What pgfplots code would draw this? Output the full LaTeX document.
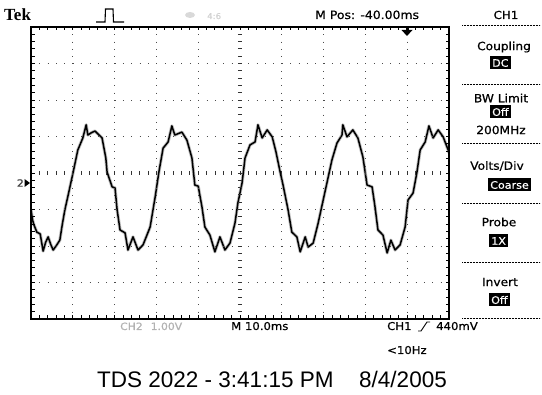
\documentclass[border=0pt]{standalone}
\usepackage{pgfplots}
\usepackage{pgfplotstable}
\pgfplotsset{compat=1.18}
\usepackage{fontspec}
\setmainfont[FakeStretch=1.08, FakeBold=0.7]{DejaVu Sans}
\newfontfamily\arialfont{Liberation Sans}
\newfontfamily\tekfont{Liberation Serif}

% CH1 trace, time in divisions (0..10), voltage in divisions (-4..4)
\pgfplotstableread{
t v
0.00 -1.01
0.04 -1.30
0.07 -1.42
0.14 -1.62
0.22 -1.67
0.29 -2.14
0.35 -1.90
0.41 -1.75
0.47 -1.95
0.53 -2.11
0.60 -2.00
0.69 -1.84
0.75 -1.40
0.81 -1.01
0.89 -0.60
1.01 0.03
1.12 0.63
1.24 0.96
1.32 1.32
1.36 1.04
1.44 1.10
1.53 1.15
1.62 1.05
1.70 0.96
1.79 0.41
1.82 0.03
1.94 -0.38
2.01 -0.41
2.06 -1.01
2.13 -1.56
2.25 -1.64
2.32 -2.11
2.44 -1.75
2.56 -2.11
2.68 -1.97
2.85 -1.48
2.97 -0.66
3.06 0.03
3.16 0.68
3.28 0.85
3.37 1.29
3.44 1.04
3.61 1.12
3.73 0.90
3.85 0.41
3.92 -0.33
4.00 -0.36
4.09 -0.93
4.16 -1.48
4.28 -1.70
4.40 -2.16
4.52 -1.75
4.64 -2.11
4.76 -1.92
4.88 -1.37
4.95 -0.82
5.05 -0.27
5.12 0.41
5.24 0.77
5.36 0.85
5.43 1.32
5.53 0.96
5.65 1.18
5.77 0.99
5.86 0.58
5.96 0.03
6.03 -0.33
6.15 -1.01
6.24 -1.62
6.36 -1.75
6.44 -2.16
6.56 -1.75
6.63 -2.03
6.75 -1.92
6.87 -1.37
6.99 -0.74
7.08 -0.27
7.20 0.36
7.32 0.82
7.44 1.04
7.46 1.32
7.56 0.99
7.70 1.18
7.82 0.96
7.94 0.44
8.04 -0.33
8.16 -0.38
8.23 -0.93
8.30 -1.56
8.42 -1.70
8.52 -2.19
8.61 -1.84
8.71 -2.11
8.83 -1.97
8.95 -1.48
9.02 -0.74
9.14 -0.55
9.23 0.00
9.31 0.63
9.43 0.85
9.52 1.29
9.62 0.96
9.74 1.18
9.86 0.99
9.98 0.63
10.00 0.55
}\chonetrace

\begin{document}
\begin{tikzpicture}[x=1pt,y=1pt]
\useasboundingbox (0,0) rectangle (542,395);

% waveform area: 10 x 8 divisions
\begin{axis}[at={(31pt,76pt)}, anchor=south west, scale only axis,
  width=418pt, height=292pt, xmin=0, xmax=10, ymin=-4, ymax=4,
  hide axis, clip=true]
\addplot[gray!50, line width=3.2pt, line join=round, no marks] table[x=t,y=v] {\chonetrace};
\addplot[black, line width=1.5pt, line join=round, no marks] table[x=t,y=v] {\chonetrace};
\end{axis}

% screen furniture, drawn in screen pixels measured from the top left
\begin{scope}[yshift=395pt, yscale=-1]
  % dotted graticule
  \foreach \k in {1,2,3,4,6,7,8,9}
    \draw[black!70, line width=0.9pt, dash pattern=on 1pt off 6.3pt]
      (31+41.8*\k, 27) -- (31+41.8*\k, 319);
  \foreach \k in {1,2,3,5,6,7}
    \draw[black!70, line width=0.9pt, dash pattern=on 1pt off 7.36pt]
      (31, 27+36.5*\k) -- (449, 27+36.5*\k);
  % centre cross with minor ticks
  \foreach \i in {0,...,40}
    \draw[black!80, line width=0.8pt] (237.8, 27+7.3*\i) -- (242.2, 27+7.3*\i);
  \foreach \i in {0,...,50}
    \draw[black!80, line width=0.8pt] (31+8.36*\i, 171) -- (31+8.36*\i, 175);
  % frame with inward ticks
  \draw[black, line width=1.3pt] (31,27) rectangle (449,319);
  \foreach \i in {0,...,50} {
    \draw[black, line width=0.9pt] (31+8.36*\i, 27) -- ++(0,3.5);
    \draw[black, line width=0.9pt] (31+8.36*\i, 319) -- ++(0,-3.5);
  }
  \foreach \i in {0,...,40} {
    \draw[black, line width=0.9pt] (31, 27+7.3*\i) -- ++(3.5,0);
    \draw[black, line width=0.9pt] (449, 27+7.3*\i) -- ++(-3.5,0);
  }

  % header
  \node[anchor=base west, inner sep=0, font=\tekfont\bfseries\fontsize{17}{17}\selectfont] at (4,21) {Tek};
  \draw[black, line width=1.1pt] (96,22) -- (105,22) -- (105.5,9) -- (113,9) -- (113.5,22) -- (124,22);
  \fill[gray!30] (190,15) ellipse (5 and 3);
  \node[anchor=base west, inner sep=0, text=gray!35, font=\fontsize{8}{8}\selectfont] at (207,19) {4:6};
  \node[anchor=base west, inner sep=0, font=\fontsize{11.5}{12}\selectfont] at (315,19) {M Pos: -40.00ms};
  \node[anchor=base, inner sep=0, font=\fontsize{11}{12}\selectfont] at (506,19) {CH1};
  % trigger position marker
  \fill[black] (405.5,27) rectangle (408.5,30);
  \fill[black] (401.5,30) -- (412.5,30) -- (407,36) -- cycle;
  % channel 2 ground marker
  \node[anchor=east, inner sep=0, text=black!75, font=\fontsize{10}{10}\selectfont] at (24,183) {2};
  \fill[black] (24.5,179) -- (30,183) -- (24.5,187) -- cycle;

  % side menu
  \foreach \y in {25,84,143,203,262,318}
    \draw[black, line width=0.8pt, dash pattern=on 0.8pt off 0.7pt] (462,\y) -- (540,\y);
  \tikzset{menu/.style={anchor=center, inner sep=0, font=\fontsize{11.3}{12}\selectfont},
           boxed/.style={anchor=west, fill=black, text=white, inner xsep=2pt, inner ysep=1.5pt,
                         minimum height=13pt, font=\fontsize{10.3}{11}\selectfont}}
  \node[menu] at (504,47) {Coupling};
  \node[boxed] at (490,63) {DC};
  \node[menu] at (501,98) {BW Limit};
  \node[boxed] at (490,112) {Off};
  \node[menu] at (501,130) {200MHz};
  \node[menu] at (497,166) {Volts/Div};
  \node[boxed] at (488,185) {Coarse};
  \node[menu] at (499,222) {Probe};
  \node[boxed] at (489,241) {1X};
  \node[menu] at (500,282) {Invert};
  \node[boxed] at (489,300) {Off};

  % status line
  \node[anchor=base west, inner sep=0, text=gray!60, font=\fontsize{10}{11}\selectfont] at (120,330) {CH2\hspace{8pt}1.00V};
  \node[anchor=base west, inner sep=0, font=\fontsize{10.8}{11}\selectfont] at (231,330) {M 10.0ms};
  \node[anchor=base west, inner sep=0, font=\fontsize{10.8}{11}\selectfont] at (387,330) {CH1};
  \draw[black, line width=0.9pt] (418,331) -- (421,331) -- (427,322) -- (430,322);
  \node[anchor=base west, inner sep=0, font=\fontsize{10.8}{11}\selectfont] at (436,330) {440mV};
  \node[anchor=base west, inner sep=0, font=\fontsize{10.8}{11}\selectfont] at (387,354) {<10Hz};

  % footer
  \node[anchor=base west, inner sep=0, font=\arialfont\fontsize{22.5}{23}\selectfont] at (97,388) {TDS 2022 - 3:41:15 PM};
  \node[anchor=base east, inner sep=0, font=\arialfont\fontsize{22.5}{23}\selectfont] at (447,388) {8/4/2005};
\end{scope}
\end{tikzpicture}
\end{document}
